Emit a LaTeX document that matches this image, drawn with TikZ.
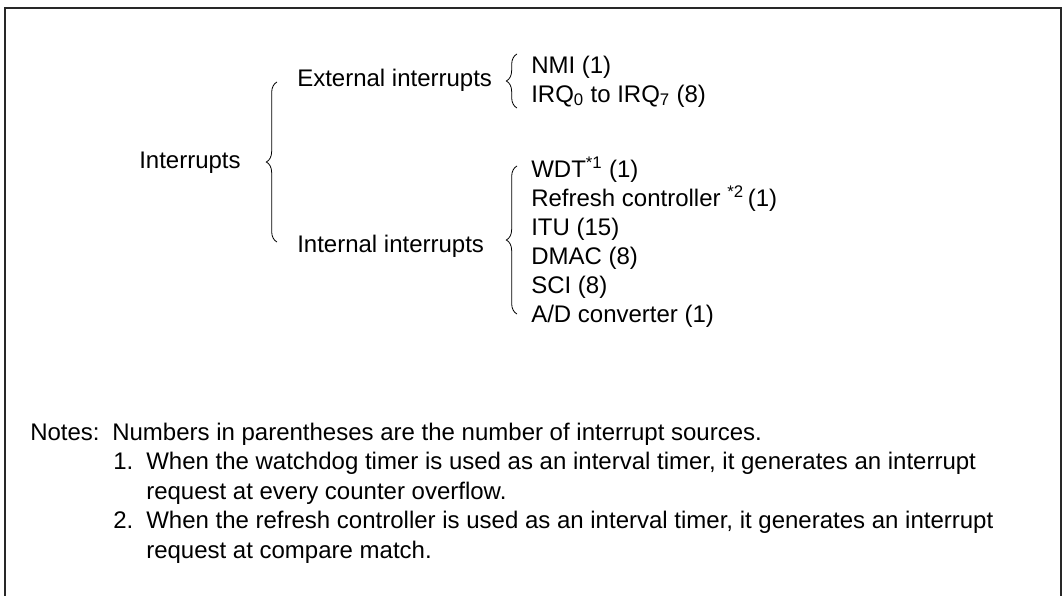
\documentclass[tikz,border=0pt]{standalone}
\usepackage{fontspec}
\setmainfont{Liberation Sans}
\usetikzlibrary{decorations.pathreplacing}

\begin{document}
\begin{tikzpicture}[x=0.75pt,y=0.75pt,yscale=-1,
  txt/.style={anchor=base west,inner sep=0pt,font=\fontsize{18}{22}\selectfont},
  curly/.style={decorate,decoration={brace,amplitude=8pt},line width=0.6pt}]
\useasboundingbox (0,0) rectangle (1064,596);

%Straight Lines [id:frame]
\draw [color={rgb, 255:red, 40; green, 40; blue, 40 }, line width=1.1pt]   (5,596) -- (5,8) -- (1061,8) -- (1061,596) ;

% Text Node
\node [txt] (intr) at (139,168) {Interrupts};
% Text Node
\node [txt] (ext) at (297,86) {External interrupts};
% Text Node
\node [txt] (int) at (297,252) {Internal interrupts};
% Text Node
\node [txt] (nmi) at (531,73) {NMI (1)};
% Text Node
\node [txt] (irq) at (531,102) {IRQ\textsubscript{0} to IRQ\textsubscript{7} (8)};
% Text Node
\node [txt] (wdt) at (531,177) {WDT\textsuperscript{*1} (1)};
% Text Node
\node [txt] (rfsh) at (531,206) {Refresh controller \textsuperscript{*2}\,(1)};
% Text Node
\node [txt] (itu) at (531,235) {ITU (15)};
% Text Node
\node [txt] (dmac) at (531,264) {DMAC (8)};
% Text Node
\node [txt] (sci) at (531,293) {SCI (8)};
% Text Node
\node [txt] (adc) at (531,322) {A/D converter (1)};

%Braces
\coordinate (b1bot) at (277,242);
\coordinate (b1top) at (277,82);
\draw [curly]   (b1bot) -- (b1top) ;
\coordinate (b2bot) at (517,108);
\coordinate (b2top) at (517,54);
\draw [curly]   (b2bot) -- (b2top) ;
\coordinate (b3bot) at (517,314);
\coordinate (b3top) at (517,166);
\draw [curly]   (b3bot) -- (b3top) ;

% Text Node
\node [txt] (notes) at (30,440) {Notes:};
% Text Node
\node [txt] (nt0) at (112,440) {Numbers in parentheses are the number of interrupt sources.};
% Text Node
\node [txt] (nt1n) at (113,469.5) {1.};
% Text Node
\node [txt] (nt1a) at (146,469.5) {When the watchdog timer is used as an interval timer, it generates an interrupt};
% Text Node
\node [txt] (nt1b) at (146,499) {request at every counter overflow.};
% Text Node
\node [txt] (nt2n) at (113,528.5) {2.};
% Text Node
\node [txt] (nt2a) at (146,528.5) {When the refresh controller is used as an interval timer, it generates an interrupt};
% Text Node
\node [txt] (nt2b) at (146,558) {request at compare match.};

\end{tikzpicture}
\end{document}
